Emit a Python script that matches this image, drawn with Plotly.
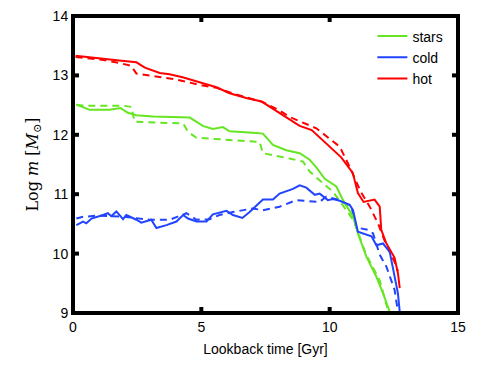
import plotly.graph_objects as go

# ---- data (lookback time [Gyr], log mass) ----
hot_t = [0.1, 0.6, 1.2, 1.8, 2.47, 2.8, 3.38, 3.76, 4.27, 5.05, 5.59, 6.1, 6.75, 7.35, 8.05, 8.83, 9.3, 9.8, 10.45, 10.9, 11.1, 11.32, 11.75, 11.95, 12.01, 12.2, 12.53, 12.66, 12.73]
hot_y = [13.33, 13.31, 13.28, 13.25, 13.22, 13.13, 13.04, 13.02, 12.97, 12.87, 12.80, 12.70, 12.62, 12.56, 12.37, 12.15, 12.08, 11.88, 11.62, 11.36, 11.02, 10.87, 10.91, 10.79, 10.40, 10.18, 9.93, 9.67, 9.42]

hot_d_t = [0.1, 0.6, 1.2, 1.8, 2.27, 2.47, 3.25, 4.03, 4.94, 5.6, 6.2, 6.8, 7.4, 8.0, 8.44, 9.48, 10.39, 10.78, 11.2, 11.56, 11.88, 12.21, 12.53, 12.66]
hot_d_y = [13.31, 13.29, 13.26, 13.21, 13.16, 13.03, 12.98, 12.93, 12.84, 12.79, 12.70, 12.62, 12.55, 12.42, 12.30, 12.11, 11.80, 11.46, 11.05, 10.79, 10.51, 10.14, 9.86, 9.70]

stars_t = [0.13, 0.65, 1.43, 1.85, 2.14, 2.47, 3.12, 4.55, 5.06, 5.45, 5.84, 6.1, 7.14, 7.40, 7.79, 8.31, 8.83, 9.22, 9.48, 9.81, 10.26, 10.52, 10.91, 11.1, 11.43, 11.82, 12.08, 12.34]
stars_y = [12.51, 12.42, 12.42, 12.45, 12.37, 12.33, 12.31, 12.29, 12.15, 12.10, 12.13, 12.06, 12.03, 12.02, 11.83, 11.74, 11.69, 11.58, 11.45, 11.26, 11.13, 10.90, 10.63, 10.34, 9.95, 9.61, 9.33, 9.02]

stars_d_t = [0.13, 0.65, 1.95, 2.27, 2.40, 4.29, 4.48, 4.81, 7.27, 7.40, 8.44, 8.96, 9.22, 9.61, 10.13, 10.65, 10.95, 11.4, 11.95, 12.27]
stars_d_y = [12.50, 12.49, 12.49, 12.47, 12.22, 12.19, 12.05, 11.95, 11.88, 11.69, 11.60, 11.55, 11.38, 11.24, 11.04, 10.73, 10.55, 10.0, 9.55, 9.05]

cold_t = [0.13, 0.39, 0.52, 0.72, 1.17, 1.36, 1.49, 1.69, 1.95, 2.08, 2.47, 2.66, 3.05, 3.25, 3.64, 4.03, 4.29, 4.48, 4.81, 5.2, 5.45, 5.98, 6.23, 6.6, 6.88, 7.40, 7.79, 8.05, 8.57, 8.83, 9.09, 9.42, 9.61, 9.93, 10.13, 10.39, 10.78, 10.91, 11.1, 11.3, 11.63, 11.82, 12.08, 12.34, 12.53, 12.66, 12.73]
cold_y = [10.48, 10.54, 10.51, 10.59, 10.65, 10.68, 10.63, 10.71, 10.58, 10.65, 10.57, 10.52, 10.57, 10.43, 10.48, 10.54, 10.65, 10.59, 10.54, 10.54, 10.66, 10.72, 10.65, 10.60, 10.70, 10.91, 10.91, 11.01, 11.09, 11.15, 11.11, 10.99, 11.01, 10.90, 10.92, 10.89, 10.82, 10.73, 10.37, 10.34, 10.29, 10.14, 10.17, 10.03, 9.61, 9.33, 9.02]

cold_d_t = [0.13, 0.39, 1.0, 2.0, 2.99, 3.77, 4.42, 4.81, 5.33, 5.71, 6.23, 7.01, 7.40, 8.05, 8.70, 9.09, 9.61, 9.87, 10.39, 10.85, 11.04, 11.49, 11.69, 11.95, 12.21, 12.53, 12.66]
cold_d_y = [10.59, 10.62, 10.64, 10.62, 10.57, 10.57, 10.68, 10.57, 10.58, 10.65, 10.70, 10.76, 10.73, 10.79, 10.90, 10.89, 10.87, 10.96, 10.90, 10.79, 10.44, 10.40, 10.34, 9.98, 9.78, 9.39, 9.02]

x_ticks = [0, 5, 10, 15]
y_ticks = [9, 10, 11, 12, 13, 14]

GREEN = "#66e622"
BLUE = "#2244ff"
RED = "#ff0000"
INK = "#000000"

W, H = 491, 369
M = dict(l=73, r=33, t=16, b=56)
x0, x1 = x_ticks[0], x_ticks[-1]
y0, y1 = y_ticks[0], y_ticks[-1]

fig = go.Figure()
series = [
    ("stars", stars_t, stars_y, stars_d_t, stars_d_y, GREEN),
    ("cold", cold_t, cold_y, cold_d_t, cold_d_y, BLUE),
    ("hot", hot_t, hot_y, hot_d_t, hot_d_y, RED),
]
for name, t, y, td, yd, c in series:
    fig.add_trace(go.Scatter(x=td, y=yd, mode="lines", showlegend=False, hoverinfo="skip",
                             line=dict(color=c, width=2, dash="7px,5px")))
for name, t, y, td, yd, c in series:
    fig.add_trace(go.Scatter(x=t, y=y, mode="lines", name=name,
                             line=dict(color=c, width=2)))

# frame and inside tick marks (derived from the axis ranges / tick lists)
tlen_x = (x1 - x0) * 6 / (W - M["l"] - M["r"])
tlen_y = (y1 - y0) * 6 / (H - M["t"] - M["b"])
fx = [x0, x1, x1, x0, x0, None]
fy = [y0, y0, y1, y1, y0, None]
for xv in x_ticks[1:-1]:
    fx += [xv, xv, None, xv, xv, None]
    fy += [y0, y0 + tlen_y, None, y1, y1 - tlen_y, None]
for yv in y_ticks[1:-1]:
    fx += [x0, x0 + tlen_x, None, x1, x1 - tlen_x, None]
    fy += [yv, yv, None, yv, yv, None]
fig.add_trace(go.Scatter(x=fx, y=fy, mode="lines", showlegend=False, hoverinfo="skip",
                         line=dict(color=INK, width=4)))

axis_common = dict(showline=True, linecolor=INK, linewidth=2, mirror="ticks",
                   ticks="inside", ticklen=6, tickwidth=2, tickcolor=INK,
                   showgrid=False, zeroline=False, automargin=False,
                   tickfont=dict(family="Liberation Sans, Arial", size=14, color=INK))

fig.update_layout(
    width=W, height=H,
    margin=M,
    paper_bgcolor="white", plot_bgcolor="white",
    xaxis=dict(range=[x0, x1], tickvals=x_ticks,
               title=dict(text="Lookback time [Gyr]", standoff=10,
                          font=dict(family="Liberation Sans, Arial", size=14, color=INK)),
               **axis_common),
    yaxis=dict(range=[y0, y1], tickvals=y_ticks,
               title=dict(text="Log <i>m</i> [<i>M</i><sub>⊙</sub>]", standoff=10,
                          font=dict(family="DejaVu Serif, Liberation Serif", size=16, color=INK)),
               **axis_common),
    legend=dict(x=0.975, xanchor="right", y=0.985, yanchor="top",
                bgcolor="rgba(0,0,0,0)", borderwidth=0, tracegroupgap=0,
                font=dict(family="Liberation Sans, Arial", size=14, color=INK)),
)

fig.write_html("out.html", post_script="document.body.style.margin='0';",
               config={"displayModeBar": False})
